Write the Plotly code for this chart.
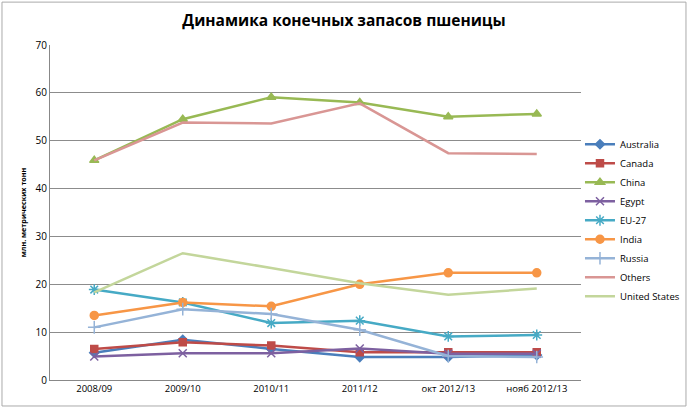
import plotly.graph_objects as go

categories = ["2008/09", "2009/10", "2010/11", "2011/12", "окт 2012/13", "нояб 2012/13"]
australia = [5.7, 8.4, 6.5, 4.8, 4.8, 5.2]
canada = [6.5, 7.9, 7.2, 5.8, 5.8, 5.8]
china = [45.9, 54.5, 59.1, 58.0, 55.0, 55.6]
egypt = [4.9, 5.6, 5.6, 6.6, 5.5, 5.5]
eu27 = [18.9, 16.2, 11.9, 12.4, 9.1, 9.4]
india = [13.5, 16.2, 15.4, 20.0, 22.4, 22.4]
russia = [11.0, 14.8, 13.8, 10.5, 5.0, 4.8]
others = [45.9, 53.8, 53.6, 57.8, 47.4, 47.2]
united_states = [18.3, 26.5, 23.4, 20.2, 17.8, 19.1]
y_ticks = [0, 10, 20, 30, 40, 50, 60, 70]

series = [
    ("Australia", australia, "#4A7EBB", "diamond", 7),
    ("Canada", canada, "#BE4B48", "square", 7),
    ("China", china, "#98B954", "triangle-up", 8),
    ("Egypt", egypt, "#7D60A0", "x-thin", 8),
    ("EU-27", eu27, "#46AAC5", "asterisk", 9),
    ("India", india, "#F79646", "circle", 8),
    ("Russia", russia, "#95B3D7", "cross-thin", 9),
    ("Others", others, "#D99694", None, 0),
    ("United States", united_states, "#C3D69B", None, 0),
]

fig = go.Figure()
for name, vals, color, sym, size in series:
    if sym:
        fig.add_trace(go.Scatter(
            x=categories, y=vals, name=name, mode="lines+markers",
            line=dict(color=color, width=2.5),
            marker=dict(symbol=sym, size=size, color=color,
                        line=dict(color=color, width=1.5)),
        ))
    else:
        fig.add_trace(go.Scatter(
            x=categories, y=vals, name=name, mode="lines",
            line=dict(color=color, width=2.5),
        ))

fig.update_layout(
    width=688, height=408,
    margin=dict(l=50, r=107, t=45, b=28, autoexpand=False),
    paper_bgcolor="white", plot_bgcolor="white",
    font=dict(family="Open Sans, Liberation Sans, sans-serif", size=10, color="#333"),
    title=dict(text="<b>Динамика конечных запасов пшеницы</b>",
               x=0.5, xanchor="center", xref="container",
               y=0.95, yanchor="middle",
               font=dict(size=15.5, color="#000")),
    showlegend=True,
    legend=dict(xref="container", yref="container", x=0.843, xanchor="left",
                y=0.682, yanchor="top",
                font=dict(size=9.5, color="#000"), tracegroupgap=0,
                itemwidth=30, bgcolor="rgba(0,0,0,0)"),
    xaxis=dict(type="category", showline=True, linecolor="#888", linewidth=1,
               showgrid=False, ticks="", tickfont=dict(size=9.5, color="#000"),
               range=[-0.5, 5.5], automargin=False),
    yaxis=dict(range=[0, 70], tickvals=y_ticks, showline=True, linecolor="#888",
               linewidth=1, gridcolor="#8c8c8c", gridwidth=1, ticks="",
               zeroline=False, tickfont=dict(size=10, color="#000"),
               automargin=False,
               title=dict(text="<b>млн. метрических тонн</b>",
                          font=dict(size=7.2, color="#000"), standoff=8)),
    shapes=[dict(type="rect", xref="paper", yref="paper",
                 x0=-0.0904, x1=1.1977, y0=-0.0776, y1=1.128,
                 line=dict(color="#aaa", width=1))],
)

fig.write_html("out.html", config={"displayModeBar": False},
               post_script="document.body.style.margin='0';")
